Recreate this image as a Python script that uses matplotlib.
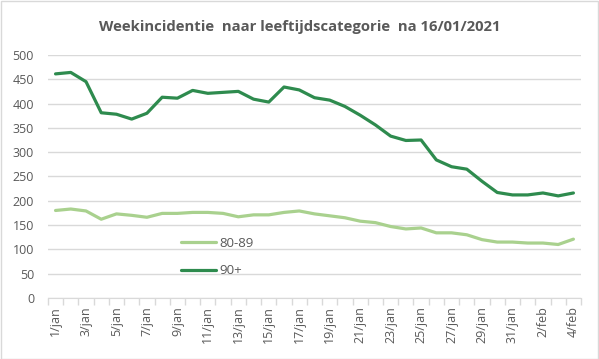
import numpy as np
import matplotlib.pyplot as plt
from matplotlib.patches import Rectangle

# dates 1 jan .. 4 feb
dates = [f"{d}/jan" for d in range(1, 32)] + [f"{d}/feb" for d in range(1, 5)]

age_80_89 = [180, 183, 179, 162, 173, 170, 166, 174, 174, 176, 176, 174, 167, 171, 171, 176,
             179, 173, 169, 165, 158, 155, 147, 142, 144, 134, 134, 130, 120, 115, 115, 113,
             113, 110, 121]
age_90 = [461, 464, 445, 381, 378, 368, 380, 413, 411, 427, 421, 423, 425, 409, 403, 434,
          428, 412, 407, 394, 376, 356, 333, 324, 325, 284, 270, 265, 240, 217, 212, 212,
          216, 210, 216]

text_col = '#595959'
grid_col = '#d9d9d9'
plt.rcParams['font.family'] = ['Open Sans', 'DejaVu Sans']

fig = plt.figure(figsize=(5.99, 3.59), dpi=100)
ax = fig.add_axes([0.080, 0.170, 0.890, 0.677])

x = np.arange(len(dates))
ax.plot(x, age_80_89, color='#a9d18e', lw=2.3, label='80-89', solid_capstyle='round')
ax.plot(x, age_90, color='#2e8b4e', lw=2.3, label='90+', solid_capstyle='round')

ax.set_xlim(-0.5, len(dates) - 0.5)
ax.set_ylim(0, 500)
ax.set_yticks(np.arange(0, 501, 50))
ax.yaxis.grid(True, color=grid_col, lw=1)
ax.set_axisbelow(True)

# tick marks on category boundaries, labels every other day
ax.set_xticks(np.arange(-0.5, len(dates), 1), minor=True)
ax.set_xticks(x[::2])
ax.set_xticklabels(dates[::2], rotation=90)
ax.tick_params(axis='x', which='minor', length=5, color=grid_col, width=1)
ax.tick_params(axis='x', which='major', length=0, pad=6, labelsize=9, labelcolor=text_col)
ax.tick_params(axis='y', length=0, pad=10, labelsize=9, labelcolor=text_col)

for s in ['top', 'right', 'left']:
    ax.spines[s].set_visible(False)
ax.spines['bottom'].set_color(grid_col)

ax.legend(loc='upper left', bbox_to_anchor=(0.228, 0.30), frameon=False, fontsize=9.5,
          labelcolor=text_col, handlelength=2.6, labelspacing=1.1, handletextpad=0.3)

fig.suptitle('Weekincidentie  naar leeftijdscategorie  na 16/01/2021', x=0.5, y=0.945,
             fontsize=10.7, fontweight='bold', color=text_col)

fig.patches.append(Rectangle((0.001, 0.001), 0.998, 0.997, transform=fig.transFigure,
                             fill=False, edgecolor=grid_col, lw=1))

fig.savefig('out.png', dpi=100)
